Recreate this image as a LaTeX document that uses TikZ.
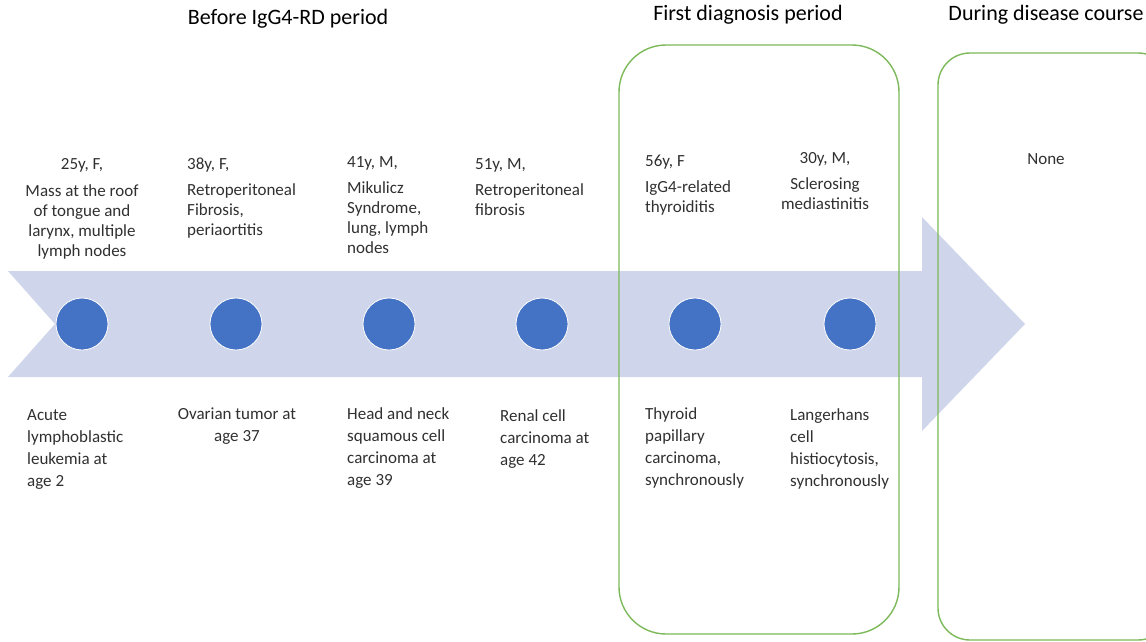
\documentclass[tikz,border=0pt]{standalone}
\usepackage{fontspec}
\setmainfont{Carlito}
\definecolor{bandblue}{HTML}{CFD5EA}
\definecolor{dotblue}{HTML}{4472C4}
\definecolor{boxgreen}{HTML}{7DB95A}
\definecolor{txtgray}{HTML}{303030}

\begin{document}
\begin{tikzpicture}[x=1pt,y=-1pt,
  dot/.style={circle,fill=dotblue,draw=white,line width=0.8pt,minimum size=52pt,inner sep=0pt},
  period/.style={draw=boxgreen,line width=1.4pt},
  head/.style={font=\fontsize{22}{26}\selectfont,text=black,inner sep=0pt,anchor=base},
  toplbl/.style={font=\fontsize{17}{20}\selectfont,text=txtgray,inner sep=0pt},
  botlbl/.style={font=\fontsize{17}{22}\selectfont,text=txtgray,inner sep=0pt}]
  \useasboundingbox (0,0) rectangle (1146,642);
  % timeline band
  \fill[bandblue] (8,271) -- (922,271) -- (922,217) -- (1025,324) -- (922,431)
    -- (922,377) -- (8,377) -- (55,324) -- cycle;
  % periods
  \draw[period,rounded corners=47pt] (619,45) rectangle (899,634);
  \draw[period,rounded corners=32pt] (938,53) rectangle (1170,640);
  \node[head] (hbefore) at (288,25) {Before IgG4-RD period};
  \node[head] (hfirst) at (748,21) {First diagnosis period};
  \node[head] (hduring) at (1046,21) {During disease course};
  % cases
  \foreach \x [count=\i] in {82,236,389,542,695,850}{%
    \node[dot] (c\i) at (\x,324) {};
  }
  \node[toplbl,anchor=north,align=center] (t1) at (82,158)
    {25y, F,\\[7pt]Mass at the roof\\of tongue and\\larynx, multiple\\lymph nodes};
  \node[toplbl,anchor=north west,align=left] (t2) at (187,158)
    {38y, F,\\[6pt]Retroperitoneal\\Fibrosis,\\periaortitis};
  \node[toplbl,anchor=north west,align=left] (t3) at (347,156)
    {41y, M,\\[6pt]Mikulicz\\Syndrome,\\lung, lymph\\nodes};
  \node[toplbl,anchor=north west,align=left] (t4) at (475,158)
    {51y, M,\\[6pt]Retroperitoneal\\fibrosis};
  \node[toplbl,anchor=north west,align=left] (t5) at (645,155)
    {56y, F\\[6pt]IgG4-related\\thyroiditis};
  \node[toplbl,anchor=north,align=center] (t6) at (825,152)
    {30y, M,\\[6pt]Sclerosing\\mediastinitis};
  \node[toplbl,anchor=north] (t7) at (1046,153) {None};
  \node[botlbl,anchor=north west,align=left] (b1) at (27,409)
    {Acute\\lymphoblastic\\leukemia at\\age 2};
  \node[botlbl,anchor=north,align=center] (b2) at (237,408)
    {Ovarian tumor at\\age 37};
  \node[botlbl,anchor=north west,align=left] (b3) at (347,407)
    {Head and neck\\squamous cell\\carcinoma at\\age 39};
  \node[botlbl,anchor=north west,align=left] (b4) at (500,409)
    {Renal cell\\carcinoma at\\age 42};
  \node[botlbl,anchor=north west,align=left] (b5) at (645,407)
    {Thyroid\\papillary\\carcinoma,\\synchronously};
  \node[botlbl,anchor=north west,align=left] (b6) at (790,408)
    {Langerhans\\cell\\histiocytosis,\\synchronously};
\end{tikzpicture}
\end{document}
